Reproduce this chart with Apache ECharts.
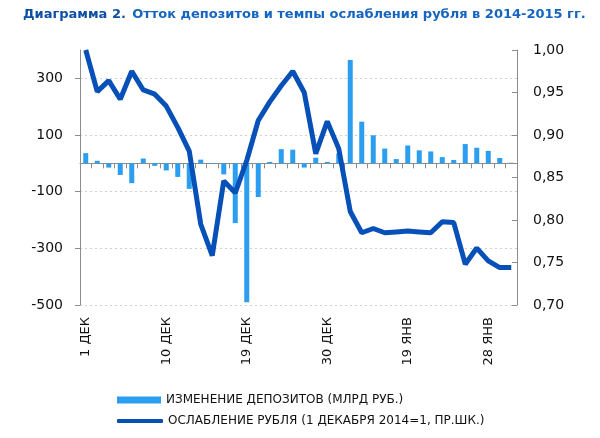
<!DOCTYPE html>
<html>
<head>
<meta charset="utf-8">
<script src="https://cdn.jsdelivr.net/npm/echarts@6/dist/echarts.min.js"></script>
<style>
  html, body { margin: 0; padding: 0; background: #fff; }
  #chart { width: 600px; height: 438px; }
</style>
</head>
<body>
<div id="chart"></div>
<script>
// торговые дни, декабрь 2014 - январь 2015
const days = ['1 ДЕК','2 ДЕК','3 ДЕК','4 ДЕК','5 ДЕК','8 ДЕК','9 ДЕК','10 ДЕК','11 ДЕК','12 ДЕК',
  '15 ДЕК','16 ДЕК','17 ДЕК','18 ДЕК','19 ДЕК','22 ДЕК','23 ДЕК','24 ДЕК','25 ДЕК','26 ДЕК',
  '29 ДЕК','30 ДЕК','31 ДЕК','12 ЯНВ','13 ЯНВ','14 ЯНВ','15 ЯНВ','16 ЯНВ','19 ЯНВ','20 ЯНВ',
  '21 ЯНВ','22 ЯНВ','23 ЯНВ','26 ЯНВ','27 ЯНВ','28 ЯНВ','29 ЯНВ','30 ЯНВ'];

// изменение депозитов, млрд руб.
const deposits = [36, 9, -15, -41, -70, 17, -9, -25, -48, -90,
  13, -2, -39, -211, -490, -119, 5, 50, 48, -15,
  20, 5, 35, 365, 147, 99, 52, 15, 63, 46,
  42, 22, 12, 68, 55, 44, 19, 2];

// ослабление рубля (1 декабря 2014 = 1)
const ruble = [1.000, 0.951, 0.964, 0.942, 0.975, 0.953, 0.948, 0.934, 0.909, 0.881,
  0.795, 0.758, 0.846, 0.832, 0.870, 0.917, 0.939, 0.958, 0.975, 0.950,
  0.878, 0.916, 0.884, 0.810, 0.785, 0.790, 0.785, 0.786, 0.787, 0.786,
  0.785, 0.798, 0.797, 0.748, 0.767, 0.752, 0.744, 0.744];

const depName = 'ИЗМЕНЕНИЕ ДЕПОЗИТОВ (МЛРД РУБ.)';
const rubName = 'ОСЛАБЛЕНИЕ РУБЛЯ (1 ДЕКАБРЯ 2014=1, ПР.ШК.)';

const FONT = 'DejaVu Sans';
const axisGray = '#8c8c8c';

const chart = echarts.init(document.getElementById('chart'));

chart.setOption({
    animation: false,
    backgroundColor: '#fff',
    textStyle: { fontFamily: FONT },
    title: {
        left: 18, top: 1,
        text: '{b|Диаграмма 2.} {n|Отток депозитов и темпы ослабления рубля в 2014-2015 гг.}',
        textStyle: {
            rich: {
                b: { fontFamily: FONT, fontSize: 13, fontWeight: 'bold', color: '#0d4fa3' },
                n: { fontFamily: FONT, fontSize: 13, color: '#1565c0' }
            }
        }
    },
    legend: [{
        orient: 'vertical', left: 112, top: 389,
        icon: 'rect', itemWidth: 44, itemHeight: 7,
        textStyle: { fontFamily: FONT, fontSize: 12, color: '#111' },
        data: [depName]
    }, {
        orient: 'vertical', left: 112, top: 410,
        icon: 'roundRect', itemWidth: 46, itemHeight: 4,
        textStyle: { fontFamily: FONT, fontSize: 12, color: '#111' },
        data: [rubName]
    }],
    grid: { left: 80, right: 83, top: 50, bottom: 133 },
    xAxis: [{
        type: 'category', data: days,
        axisLine: { onZero: true, onZeroAxisIndex: 0, lineStyle: { color: axisGray, width: 1 } },
        axisTick: { show: true, interval: 0, length: 5, lineStyle: { color: axisGray } },
        axisLabel: { show: false },
        splitLine: { show: false }
    }, {
        type: 'category', data: days, position: 'bottom',
        axisLine: { show: false, onZero: false },
        axisTick: { show: false },
        axisLabel: { rotate: 90, interval: 6, margin: 12, fontSize: 13, color: '#111', fontFamily: FONT },
        splitLine: { show: false }
    }],
    yAxis: [{
        type: 'value', min: -500, max: 400, interval: 200,
        axisLine: { show: true, lineStyle: { color: axisGray } },
        axisTick: { show: true, length: 5, lineStyle: { color: axisGray } },
        axisLabel: { showMaxLabel: false, margin: 17, fontSize: 14, color: '#111', fontFamily: FONT },
        splitLine: { show: true, showMaxLine: false, lineStyle: { color: '#cfcfcf', type: [2, 3] } }
    }, {
        type: 'value', min: 0.7, max: 1.0, interval: 0.05,
        axisLine: { show: true, lineStyle: { color: axisGray } },
        axisTick: { show: true, inside: true, length: 5, lineStyle: { color: axisGray } },
        axisLabel: {
            margin: 16, fontSize: 14, color: '#111', fontFamily: FONT,
            formatter: v => v.toFixed(2).replace('.', ',')
        },
        splitLine: { show: false }
    }],
    series: [{
        name: depName, type: 'bar', xAxisIndex: 0, yAxisIndex: 0,
        barWidth: 5,
        itemStyle: { color: '#2b9ef0' },
        data: deposits
    }, {
        name: rubName, type: 'line', xAxisIndex: 0, yAxisIndex: 1,
        symbol: 'none', smooth: false,
        lineStyle: { color: '#0650b8', width: 5 },
        itemStyle: { color: '#0650b8' },
        data: ruble
    }]
});
</script>
</body>
</html>
